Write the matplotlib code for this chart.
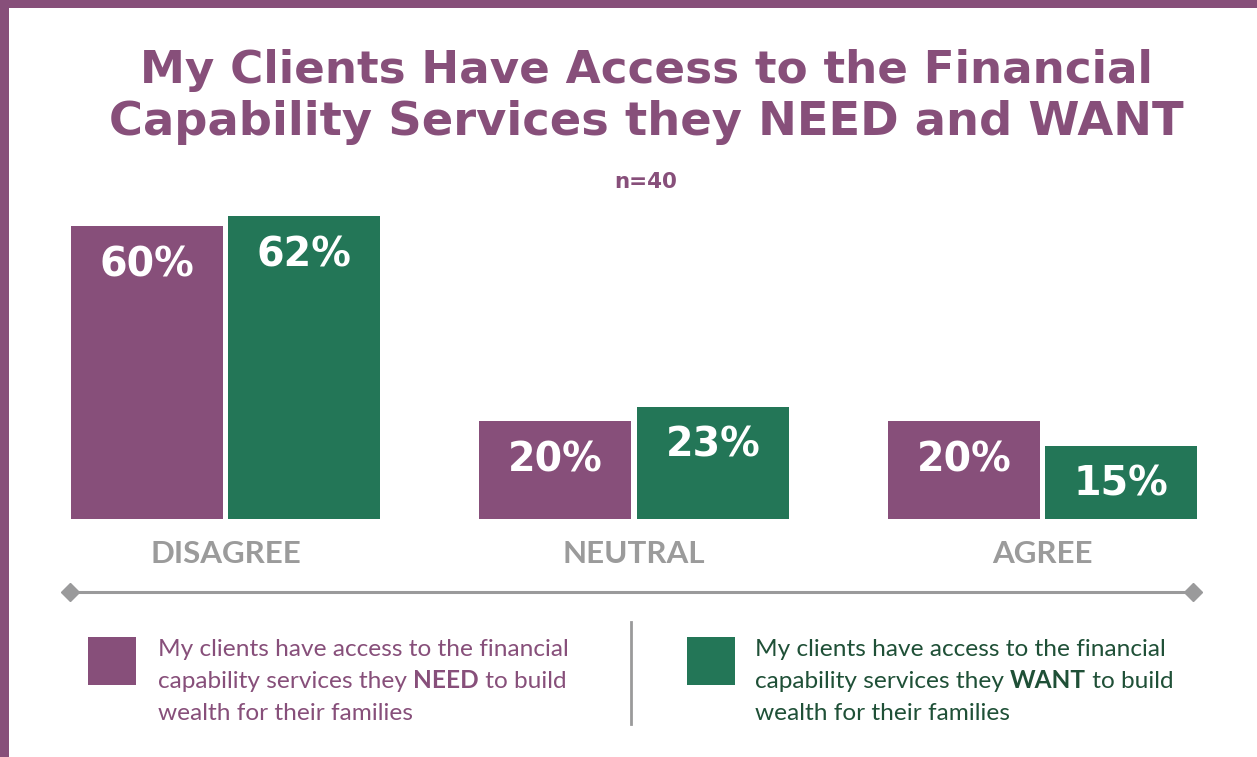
import matplotlib
matplotlib.use("Agg")
import matplotlib.pyplot as plt
from matplotlib.patches import Rectangle
from matplotlib.lines import Line2D
import numpy as np

# ---- data ----
categories = ["DISAGREE", "NEUTRAL", "AGREE"]
need_values = [60, 20, 20]
want_values = [62, 23, 15]
need_label = ["My clients have access to the financial",
              ("capability services they ", "NEED", " to build"),
              "wealth for their families"]
want_label = ["My clients have access to the financial",
              ("capability services they ", "WANT", " to build"),
              "wealth for their families"]
title_lines = ["My Clients Have Access to the Financial",
               "Capability Services they NEED and WANT"]
subtitle = "n=40"

PURPLE = "#874f7a"
GREEN = "#237657"
GREEN_TXT = "#1f5037"
GRAY_LBL = "#9b9b9b"
GRAY_LINE = "#9a9a9b"

W, H = 1257, 757
fig = plt.figure(figsize=(W / 100, H / 100), dpi=100)
fig.patch.set_facecolor("white")

def fx(px):
    return px / W

def fy(py):
    return 1 - py / H

# border (top and left)
fig.patches.append(Rectangle((0, fy(8)), 1, 8 / H, transform=fig.transFigure,
                             facecolor=PURPLE, edgecolor="none", zorder=0))
fig.patches.append(Rectangle((0, 0), fx(9), 1, transform=fig.transFigure,
                             facecolor=PURPLE, edgecolor="none", zorder=0))

# title
fig.text(fx(646), fy(83), title_lines[0], ha="center", va="baseline",
         fontsize=32.6, fontweight="bold", color=PURPLE, family="DejaVu Sans")
fig.text(fx(646), fy(135), title_lines[1], ha="center", va="baseline",
         fontsize=33.4, fontweight="bold", color=PURPLE, family="DejaVu Sans")
fig.text(fx(646), fy(188), subtitle, ha="center", va="baseline",
         fontsize=15.5, fontweight="bold", color=PURPLE, family="DejaVu Sans")

# axes: baseline at y=519 px, top at 200 px; group centres at 225.5, 634, 1043.5
px_per_unit = 408.5
ax_left_px, ax_right_px = 20, 1237
ax_bot_px, ax_top_px = 519, 200
ax = fig.add_axes([fx(ax_left_px), fy(ax_bot_px), fx(ax_right_px - ax_left_px),
                   (ax_bot_px - ax_top_px) / H])
ax.set_xlim((ax_left_px - 225.5) / px_per_unit, (ax_right_px - 225.5) / px_per_unit)
ax.set_ylim(0, (ax_bot_px - ax_top_px) / 4.88)
ax.axis("off")

x = np.arange(len(categories))
bw = 152 / px_per_unit
off = 78.75 / px_per_unit
b1 = ax.bar(x - off, need_values, width=bw, color=PURPLE)
b2 = ax.bar(x + off, want_values, width=bw, color=GREEN)

for bars, vals in ((b1, need_values), (b2, want_values)):
    for rect, v in zip(bars, vals):
        ax.annotate(f"{v}%", (rect.get_x() + rect.get_width() / 2, v),
                    xytext=(0, -39 * 0.72), textcoords="offset points",
                    ha="center", va="center", color="white", fontsize=28.5,
                    fontweight="bold", family="DejaVu Sans")

for xi, c in zip(x, categories):
    ax.annotate(c, (xi, 0), xytext=(0, -(554 - 519) * 0.72), textcoords="offset points",
                ha="center", va="center", color=GRAY_LBL, fontsize=22.6,
                fontweight="bold", family="Lato", annotation_clip=False)

# axis line with diamonds
fig.add_artist(Line2D([fx(70), fx(1193)], [fy(592), fy(592)], color=GRAY_LINE, lw=2.2,
                      transform=fig.transFigure))
fig.add_artist(Line2D([fx(70), fx(1193)], [fy(592), fy(592)], color=GRAY_LINE, lw=0,
                      marker="D", markersize=9, transform=fig.transFigure))

# legend divider
fig.add_artist(Line2D([fx(631), fx(631)], [fy(622), fy(724)], color=GRAY_LINE, lw=2,
                      transform=fig.transFigure))

LEG_FS = 17.6

def legend_block(sq_x, txt_x, color, txt_color, lines):
    fig.patches.append(Rectangle((fx(sq_x), fy(685)), fx(48), 48 / H,
                                 transform=fig.transFigure, facecolor=color,
                                 edgecolor="none"))
    baselines = [656, 688, 720]
    for bl, line in zip(baselines, lines):
        if isinstance(line, str):
            fig.text(fx(txt_x), fy(bl), line, ha="left", va="baseline",
                     fontsize=LEG_FS, color=txt_color, family="Lato")
        else:
            t0 = fig.text(fx(txt_x), fy(bl), line[0], ha="left", va="baseline",
                          fontsize=LEG_FS, color=txt_color, family="Lato")
            t1 = fig.text(0, 0, line[1], ha="left", va="baseline", fontsize=LEG_FS,
                          color=txt_color, family="Lato", fontweight="bold")
            t2 = fig.text(0, 0, line[2], ha="left", va="baseline", fontsize=LEG_FS,
                          color=txt_color, family="Lato")
            r = fig.canvas.get_renderer()
            bb0 = t0.get_window_extent(r)
            t1.set_position((bb0.x1 / fig.bbox.width, fy(bl)))
            bb1 = t1.get_window_extent(r)
            t2.set_position((bb1.x1 / fig.bbox.width, fy(bl)))

legend_block(88, 158, PURPLE, PURPLE, need_label)
legend_block(687, 755, GREEN, GREEN_TXT, want_label)

fig.savefig("out.png", dpi=100, facecolor="white")
